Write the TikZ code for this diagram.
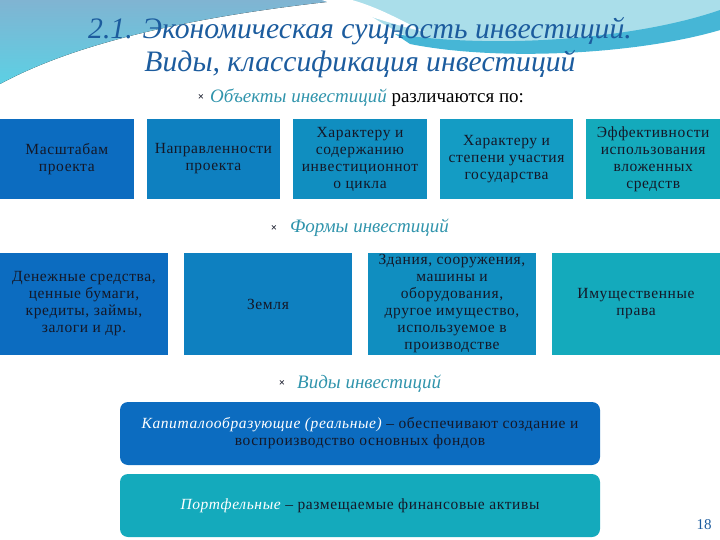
\documentclass[tikz,border=0pt]{standalone}
\usepackage{fontspec}
\setmainfont{Liberation Serif}
\newfontfamily\boxfont[LetterSpace=4]{Liberation Serif}
\usetikzlibrary{positioning}
\definecolor{bgtop}{RGB}{128,180,210}
\definecolor{bgcyan}{RGB}{92,208,228}
\definecolor{bgright}{RGB}{170,222,234}
\definecolor{bgband}{RGB}{70,182,214}
\definecolor{titel}{RGB}{28,92,158}
\definecolor{punkt}{RGB}{48,148,172}
\definecolor{boxtext}{RGB}{20,24,40}
\definecolor{blauA}{RGB}{12,108,192}
\definecolor{blauB}{RGB}{14,128,192}
\definecolor{blauC}{RGB}{16,142,192}
\definecolor{blauD}{RGB}{20,156,196}
\definecolor{tuerkis}{RGB}{20,170,188}

\begin{document}
\begin{tikzpicture}[x=1pt,y=-1pt,
	blok/.style={inner sep=1pt, outer sep=0pt, align=center, text=boxtext,
		font=\boxfont\fontsize{15.5}{17}\selectfont},
	reihe1/.style={blok, minimum width=133.6pt, minimum height=80pt},
	reihe2/.style={blok, minimum width=168pt, minimum height=102pt},
	balken/.style={blok, rounded corners=8pt, minimum width=480pt, minimum height=63pt},
	punkttext/.style={anchor=base west, inner sep=0pt, font=\fontsize{19}{22}\selectfont},
	kreuz/.style={anchor=base, inner sep=0pt, text=boxtext, font=\bfseries\fontsize{11}{12}\selectfont}]
	
	\useasboundingbox (0,0) rectangle (720,540);
	
	% Hintergrund oben
	\fill[top color=bgtop, bottom color=bgcyan] (0,0) -- (345,0) .. controls (230,12) and (90,35) .. (0,84) -- cycle;
	\fill[bgright] (345,0) -- (720,0) -- (720,30) .. controls (640,52) and (520,54) .. (420,42) .. controls (390,30) and (370,15) .. (345,0) -- cycle;
	\fill[bgband] (395,34) .. controls (500,50) and (640,38) .. (720,10) -- (720,30) .. controls (640,54) and (500,62) .. (410,44) -- cycle;
	\fill[white] (322,0) -- (352,0) .. controls (380,8) and (400,20) .. (425,32) .. controls (390,24) and (350,10) .. (322,0) -- cycle;
	
	% Titel
	\node[anchor=base, text=titel, font=\itshape\fontsize{29.7}{32}\selectfont] (titel1) at (360,39) {2.1. Экономическая сущность инвестиций.};
	\node[anchor=base, text=titel, font=\itshape\fontsize{29.7}{32}\selectfont] (titel2) at (360,72) {Виды, классификация инвестиций};
	
	% Objekte
	\node[kreuz] (k1) at (201,101) {×};
	\node[punkttext] (objekte) at (210,103) {\textcolor{punkt}{\itshape Объекты инвестиций} различаются по:};
	
	\node[reihe1, fill=blauA, anchor=north west] (masshtab) at (0,119) {Масштабам\\проекта};
	\node[reihe1, fill=blauB, right=13pt of masshtab] (napravl) {Направленности\\проекта};
	\node[reihe1, fill=blauC, right=13pt of napravl] (soderzh) {Характеру и\\содержанию\\инвестиционнот\\о цикла};
	\node[reihe1, fill=blauD, right=13pt of soderzh] (gosud) {Характеру и\\степени участия\\государства};
	\node[reihe1, fill=tuerkis, right=13pt of gosud] (effekt) {Эффективности\\использования\\вложенных\\средств};
	
	% Formen
	\node[kreuz] (k2) at (274,231) {×};
	\node[punkttext, text=punkt, font=\itshape\fontsize{19}{22}\selectfont] (formy) at (290,233) {Формы инвестиций};
	
	\node[reihe2, fill=blauA, anchor=north west] (dengi) at (0,253) {Денежные средства,\\ценные бумаги,\\кредиты, займы,\\залоги и др.};
	\node[reihe2, fill=blauB, right=16pt of dengi] (zemlja) {Земля};
	\node[reihe2, fill=blauC, right=16pt of zemlja] (zdanija) {Здания, сооружения,\\машины и\\оборудования,\\другое имущество,\\используемое в\\производстве};
	\node[reihe2, fill=tuerkis, right=16pt of zdanija] (prava) {Имущественные\\права};
	
	% Vidy
	\node[kreuz] (k3) at (282,386) {×};
	\node[punkttext, text=punkt, font=\itshape\fontsize{19}{22}\selectfont] (vidy) at (297,388) {Виды инвестиций};
	
	\node[balken, fill=blauA, anchor=north west] (kapital) at (120,402) {{\color{white}\itshape Капиталообразующие (реальные)} – обеспечивают создание и\\воспроизводство основных фондов};
	\node[balken, fill=tuerkis, anchor=north west] (portfel) at (120,474) {{\color{white}\itshape Портфельные} – размещаемые финансовые активы};
	
	\node[anchor=base, text=titel, font=\fontsize{15}{18}\selectfont] (seite) at (704,529) {18};
\end{tikzpicture}
\end{document}
